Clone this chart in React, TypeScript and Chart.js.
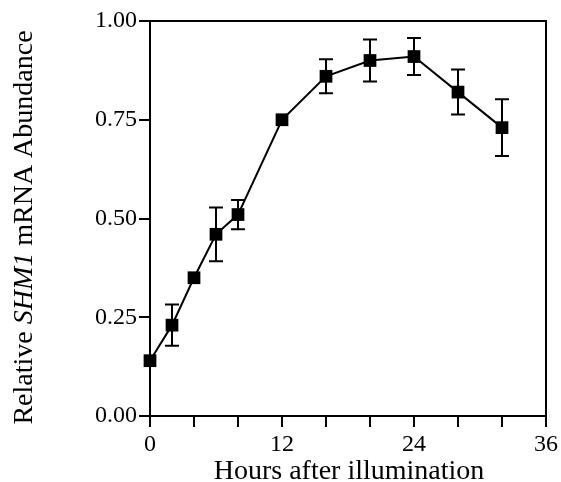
import React, { useEffect, useRef } from "react";
import { Chart, registerables } from "chart.js";

Chart.register(...registerables);

const hours = [0, 2, 4, 6, 8, 12, 16, 20, 24, 28, 32];
const abundance = [0.14, 0.23, 0.35, 0.46, 0.51, 0.75, 0.86, 0.9, 0.91, 0.82, 0.73];
const errors = [0, 0.052, 0, 0.068, 0.037, 0, 0.043, 0.053, 0.047, 0.057, 0.072];
const xTickLabels = [0, 12, 24, 36];
const yTickValues = [0, 0.25, 0.5, 0.75, 1.0];
const xTitle = "Hours after illumination";
const yTitleParts = [
  { text: "Relative ", italic: false },
  { text: "SHM1", italic: true },
  { text: " mRNA Abundance", italic: false },
];

const FONT = "'Liberation Serif', 'Times New Roman', serif";

const overlayPlugin = {
  id: "overlay",
  afterDatasetsDraw(chart: any) {
    const { ctx, chartArea, scales } = chart;
    const xs = scales.x;
    const ys = scales.y;
    ctx.save();
    // box
    ctx.strokeStyle = "#000";
    ctx.lineWidth = 2;
    ctx.strokeRect(chartArea.left, chartArea.top, chartArea.right - chartArea.left, chartArea.bottom - chartArea.top);
    // error bars
    const cap = 7;
    for (let i = 0; i < hours.length; i++) {
      const e = errors[i];
      if (!e) continue;
      const px = xs.getPixelForValue(hours[i]);
      const yt = ys.getPixelForValue(abundance[i] + e);
      const yb = ys.getPixelForValue(abundance[i] - e);
      ctx.beginPath();
      ctx.moveTo(px, yt);
      ctx.lineTo(px, yb);
      ctx.moveTo(px - cap, yt);
      ctx.lineTo(px + cap, yt);
      ctx.moveTo(px - cap, yb);
      ctx.lineTo(px + cap, yb);
      ctx.stroke();
    }
    // x title
    ctx.fillStyle = "#000";
    ctx.font = `28px ${FONT}`;
    ctx.textAlign = "center";
    ctx.textBaseline = "alphabetic";
    ctx.fillText(xTitle, (chartArea.left + chartArea.right) / 2 + 1, 479);
    // y title
    ctx.translate(32, (chartArea.top + chartArea.bottom) / 2 + 9);
    ctx.rotate(-Math.PI / 2);
    ctx.textAlign = "left";
    let total = 0;
    const widths: number[] = [];
    for (const p of yTitleParts) {
      ctx.font = `${p.italic ? "italic " : ""}28px ${FONT}`;
      const w = ctx.measureText(p.text).width;
      widths.push(w);
      total += w;
    }
    let x = -total / 2;
    yTitleParts.forEach((p, i) => {
      ctx.font = `${p.italic ? "italic " : ""}28px ${FONT}`;
      ctx.fillText(p.text, x, 0);
      x += widths[i];
    });
    ctx.restore();
  },
};

export default function App() {
  const ref = useRef<HTMLCanvasElement | null>(null);
  useEffect(() => {
    if (!ref.current) return;
    const chart = new Chart(ref.current, {
      type: "scatter",
      data: {
        datasets: [
          {
            data: hours.map((h, i) => ({ x: h, y: abundance[i] })),
            showLine: true,
            borderColor: "#000",
            borderWidth: 2,
            backgroundColor: "#000",
            pointBackgroundColor: "#000",
            pointBorderColor: "#000",
            pointBorderWidth: 0,
            pointStyle: "rect",
            pointRadius: 9,
            pointHoverRadius: 9,
            clip: false as any,
          },
        ],
      },
      options: {
        animation: false,
        responsive: false,
        layout: { padding: { top: 21, right: 15, left: 0, bottom: 0 } },
        plugins: { legend: { display: false }, tooltip: { enabled: false } },
        events: [],
        scales: {
          x: {
            type: "linear",
            min: 0,
            max: 36,
            afterFit: (s: any) => {
              s.height = 66;
            },
            border: { display: false },
            grid: {
              drawOnChartArea: false,
              drawTicks: true,
              tickLength: 11,
              lineWidth: 2,
              color: "#000",
            },
            ticks: {
              stepSize: 4,
              autoSkip: false,
              maxRotation: 0,
              padding: 3,
              color: "#000",
              font: { family: FONT, size: 24 },
              callback: (v: any) => (xTickLabels.includes(Number(v)) ? String(v) : ""),
            },
          },
          y: {
            type: "linear",
            min: 0,
            max: 1,
            afterFit: (s: any) => {
              s.width = 150;
            },
            afterBuildTicks: (s: any) => {
              s.ticks = yTickValues.map((v) => ({ value: v }));
            },
            border: { display: false },
            grid: {
              drawOnChartArea: false,
              drawTicks: true,
              tickLength: 11,
              lineWidth: 2,
              color: "#000",
            },
            ticks: {
              padding: 2,
              color: "#000",
              font: { family: FONT, size: 24 },
              callback: (v: any) => Number(v).toFixed(2),
            },
          },
        },
      },
      plugins: [overlayPlugin],
    });
    return () => chart.destroy();
  }, []);
  return (
    <div style={{ position: "fixed", left: 0, top: 0, width: 561, height: 482, background: "#fff" }}>
      <canvas ref={ref} width={561} height={482} style={{ display: "block" }} />
    </div>
  );
}
